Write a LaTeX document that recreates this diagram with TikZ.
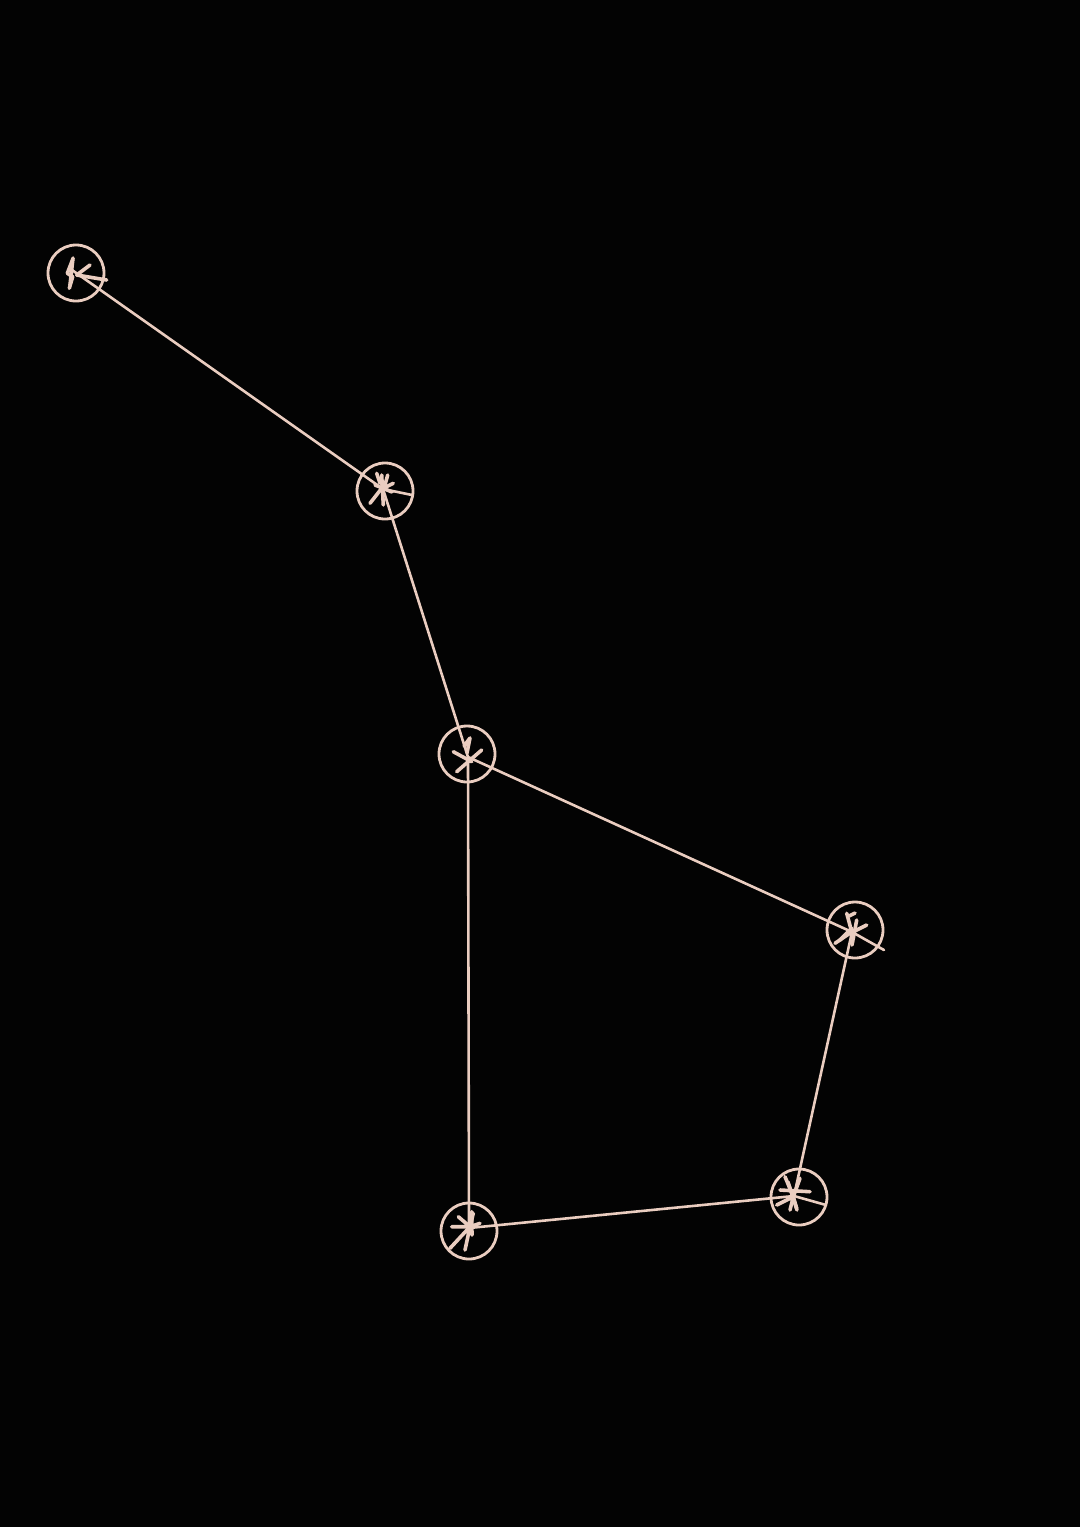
\documentclass[tikz,border=0pt]{standalone}
\definecolor{bg}{HTML}{030303}
\definecolor{ink}{HTML}{EACDC0}
\begin{document}
\begin{tikzpicture}[x=1pt,y=-1pt,
  starring/.style={circle,draw=ink,line width=2.8pt,minimum size=56pt,inner sep=0pt},
  link/.style={draw=ink,line width=2.6pt,line cap=round},
  scribble/.style={draw=ink,line width=3.6pt,line cap=round,line join=round}]
\fill[bg] (0,0) rectangle (1080,1527);
\useasboundingbox (0,0) rectangle (1080,1527);
% stars
\node[starring] (s1) at (76,273) {};
\node[starring] (s2) at (385,491) {};
\node[starring] (s3) at (467,754) {};
\node[starring] (s4) at (855,930) {};
\node[starring] (s5) at (799,1197) {};
\node[starring] (s6) at (469,1231) {};
% connectors
\coordinate (c1) at (72,270);
\coordinate (c2) at (383,489);
\coordinate (c3) at (468,757);
\coordinate (c4) at (852,932);
\coordinate (c5) at (794,1196);
\coordinate (c6) at (469,1228);
\coordinate (e2) at (412,495);
\coordinate (e4) at (884,950);
\coordinate (e5) at (826,1205);
\path[link] (c1) -- (c2) -- (e2);
\path[link] (c2) -- (c3);
\path[link] (c3) -- (c4) -- (e4);
\path[link] (c3) -- (c6);
\path[link] (c6) -- (c5) -- (e5);
\path[link] (c5) -- (c4);
% scribbles star 1
\path[scribble] (72.7,259.3) -- (67.3,273.3) -- (72.7,276.7) -- (69.3,288.3);
\path[scribble] (90,265) -- (76.7,275) -- (106.7,280);
\path[scribble] (73,258) -- (70,285);
% star 2
\path[scribble] (381.7,475) -- (383.3,505);
\path[scribble] (370,503.3) -- (381.7,488.3);
\path[scribble] (393.3,483.3) -- (383.3,488.3);
\path[scribble] (376.7,473.3) -- (380,483.3);
\path[scribble] (387.7,475) -- (385,485);
\path[scribble] (375,485) -- (392,492);
% star 3
\path[scribble] (453.3,751.7) -- (471.7,761.7);
\path[scribble] (481.7,750) -- (456.7,771.7);
\path[scribble] (464,746) -- (470,738) -- (467,753);
% star 4
\path[scribble] (835,943.3) -- (851.7,932);
\path[scribble] (866.7,925) -- (853.3,931.7);
\path[scribble] (846.7,913.3) -- (851.7,931.7);
\path[scribble] (856.7,920) -- (852,945);
\path[scribble] (840,940) -- (851.7,928.3);
\path[scribble] (849,916) -- (855,913);
% star 5
\path[scribble] (785,1176.7) -- (793.3,1196.7) -- (800,1178.3);
\path[scribble] (780,1190) -- (810,1191.7);
\path[scribble] (776.7,1205) -- (793.3,1196.7) -- (790,1210);
\path[scribble] (796.7,1208.3) -- (793.3,1196.7);
\path[scribble] (788,1182) -- (797,1210);
% star 6
\path[scribble] (458.3,1216.7) -- (470,1226.7) -- (451.7,1226.7);
\path[scribble] (450,1248.3) -- (470,1226.7) -- (465,1250);
\path[scribble] (473.3,1213.3) -- (470,1226.7) -- (480,1223.3);
\path[scribble] (471.7,1211.7) -- (472,1235);
\end{tikzpicture}
\end{document}
